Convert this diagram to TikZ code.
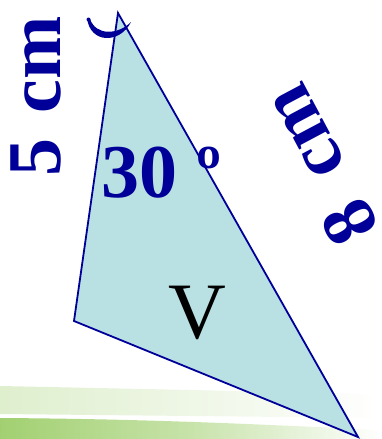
\documentclass[tikz,border=0pt]{standalone}
\usepackage{fontspec}
\setmainfont{Liberation Serif}
\definecolor{tri}{HTML}{B9E0E3}
\definecolor{navy}{HTML}{000099}
\definecolor{grass}{HTML}{A2D071}
\begin{document}
\begin{tikzpicture}[x=1pt,y=-1pt,
  lbl/.style={text=navy,font=\fontsize{76}{76}\selectfont\bfseries,inner sep=0pt},
  edge/.style={draw=navy,line width=1.8pt,line join=miter}]
\useasboundingbox (0,0) rectangle (382,439);
% ground
\shade[left color=grass!35,right color=white] (0,386) -- (382,394) -- (382,418) -- (0,414) -- cycle;
\shade[left color=grass,right color=white,middle color=grass!60] (0,418) .. controls (150,419) and (250,424) .. (382,430) -- (382,439) -- (0,439) -- cycle;
% triangle
\coordinate (A) at (118,13);
\coordinate (B) at (74,321);
\coordinate (C) at (358,437);
\filldraw[edge,fill=tri] (A) -- (B) -- (C) -- cycle;
% angle mark (crescent)
\coordinate (m1) at (87,18);
\coordinate (m2) at (131,22);
\fill[navy] (m1) .. controls (90,44) and (120,44) .. (m2) .. controls (118,35) and (96,36) .. (90,19) -- cycle;
\fill[navy] (88.5,19.5) circle (2pt);
% labels
\node[lbl,rotate=90,anchor=base west] (l5) at (60,177) {5\hspace{0.34em}cm};
\node[lbl,rotate=118,anchor=center] (l8) at (319,165) {8\hspace{0.42em}cm};
\node[lbl,anchor=base west] (l30) at (101,197) {30 º};
\node[font=\fontsize{80}{80}\selectfont,inner sep=0pt,anchor=base] (v) at (197,338) {V};
\end{tikzpicture}
\end{document}
